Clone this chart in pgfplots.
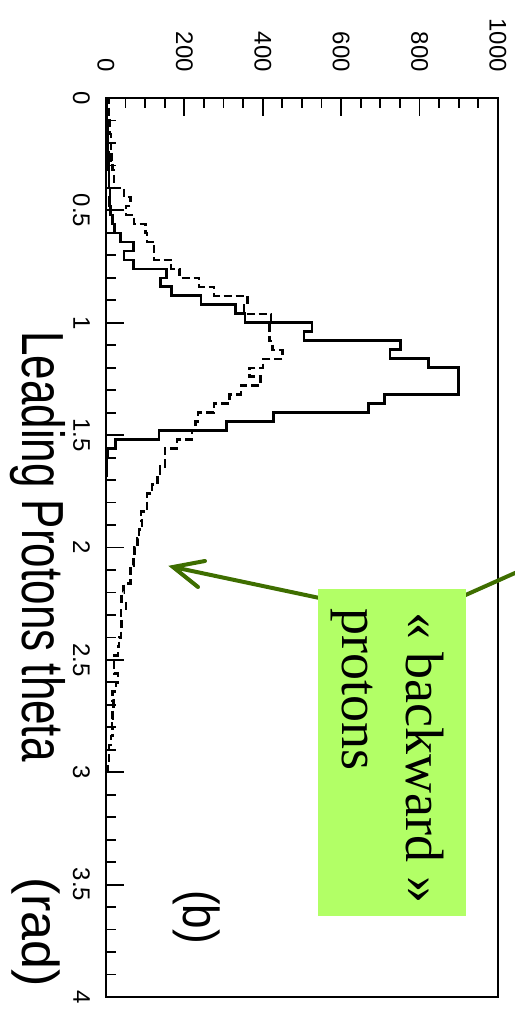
\documentclass[border=0pt]{standalone}
\usepackage{fontspec}
\setmainfont{Liberation Sans}
\newfontfamily\timesfont{Liberation Serif}
\usepackage{pgfplots}
\pgfplotsset{compat=1.18}
\definecolor{boxgreen}{RGB}{178,255,102}
\definecolor{arrowgreen}{RGB}{62,110,0}
\begin{document}
\begin{tikzpicture}
\begin{axis}[
  x={(0bp,-224.75bp)}, y={(0.392bp,0bp)},
  xmin=0, xmax=4, ymin=0, ymax=1000,
  xtick={0,0.5,...,4}, minor x tick num=4,
  ytick={0,200,...,1000}, minor y tick num=3,
  tick pos=left, tick align=inside,
  xticklabel pos=upper, yticklabel pos=upper,
  major tick length=18bp, minor tick length=10bp,
  every tick/.style={black, line width=1.8bp},
  axis line style={line width=2.2bp},
  /pgf/number format/assume math mode=true,
  /pgf/number format/1000 sep={},
  ticklabel style={font=\fontsize{24bp}{26bp}\selectfont, inner sep=0pt},
  xticklabel style={xshift=-16bp, rotate=-90, anchor=north},
  yticklabel style={yshift=26bp, rotate=-90, anchor=east},
]
\addplot[const plot, black, line width=2.6bp] table {
0.00 0
0.04 2
0.08 3
0.12 3
0.16 4
0.20 5
0.24 5
0.28 6
0.32 7
0.36 8
0.40 8
0.44 10
0.48 9
0.52 12
0.56 17
0.60 21
0.64 37
0.68 70
0.72 46
0.76 70
0.80 155
0.84 139
0.88 167
0.92 242
0.96 330
1.00 355
1.04 526
1.08 505
1.12 752
1.16 724
1.20 823
1.24 899
1.28 899
1.32 899
1.36 711
1.40 669
1.44 428
1.48 308
1.52 135
1.56 25
1.60 4
1.64 2
1.68 1
1.72 0
};
\addplot[const plot, black, line width=2.4bp, dash pattern=on 8bp off 4bp] table {
0.00 2
0.04 6
0.08 8
0.12 9
0.16 10
0.20 12
0.24 12
0.28 14
0.32 17
0.36 20
0.40 21
0.44 46
0.48 63
0.52 51
0.56 71
0.60 101
0.64 105
0.68 123
0.72 123
0.76 166
0.80 187
0.84 238
0.88 276
0.92 361
0.96 352
1.00 421
1.04 417
1.08 417
1.12 425
1.16 450
1.20 401
1.24 366
1.28 394
1.32 344
1.36 315
1.40 275
1.44 234
1.48 228
1.52 219
1.56 181
1.60 150
1.64 150
1.68 138
1.72 131
1.76 118
1.80 105
1.84 105
1.88 90
1.92 92
1.96 84
2.00 80
2.04 73
2.08 70
2.12 62
2.16 62
2.20 45
2.24 40
2.28 51
2.32 38
2.36 40
2.40 38
2.44 33
2.48 30
2.52 21
2.56 21
2.60 30
2.64 25
2.68 17
2.72 19
2.76 17
2.80 16
2.84 17
2.88 12
2.92 8
2.96 8
3.00 4
3.04 0
};
\coordinate (O) at (axis cs:0,0);
\end{axis}
\begin{scope}[shift={(O)}]
\begin{scope}[xshift=-106bp, yshift=98bp, x=1bp, y=-1bp]
  \draw[arrowgreen, line width=4bp, line join=round] (524,569) -- (414,618) -- (173,567);
  \draw[arrowgreen, line width=4bp, line cap=round, line join=miter] (205,561) -- (173,567) -- (198,587);
  \fill[boxgreen] (318,589) rectangle (466,916);
  \node[rotate=-90, anchor=base west, inner sep=0pt, font=\timesfont\fontsize{54bp}{60bp}\selectfont] at (407,612) {« backward »};
  \node[rotate=-90, anchor=base west, inner sep=0pt, font=\timesfont\fontsize{54bp}{60bp}\selectfont] at (343,608) {protons};
  \node[rotate=-90, yscale=1.35, anchor=base west, inner sep=0pt, font=\fontsize{44bp}{48bp}\selectfont] at (23,331) {Leading Protons theta};
  \node[rotate=-90, anchor=base west, inner sep=0pt, font=\fontsize{52bp}{56bp}\selectfont] at (23,877) {(rad)};
  \node[rotate=-90, yscale=1.15, anchor=base west, inner sep=0pt, font=\fontsize{44bp}{48bp}\selectfont] at (184,890) {(b)};
\end{scope}
\end{scope}
\pgfresetboundingbox
\path[use as bounding box] (O) ++(-106bp,98bp) rectangle ++(515bp,-1018bp);
\end{tikzpicture}
\end{document}
